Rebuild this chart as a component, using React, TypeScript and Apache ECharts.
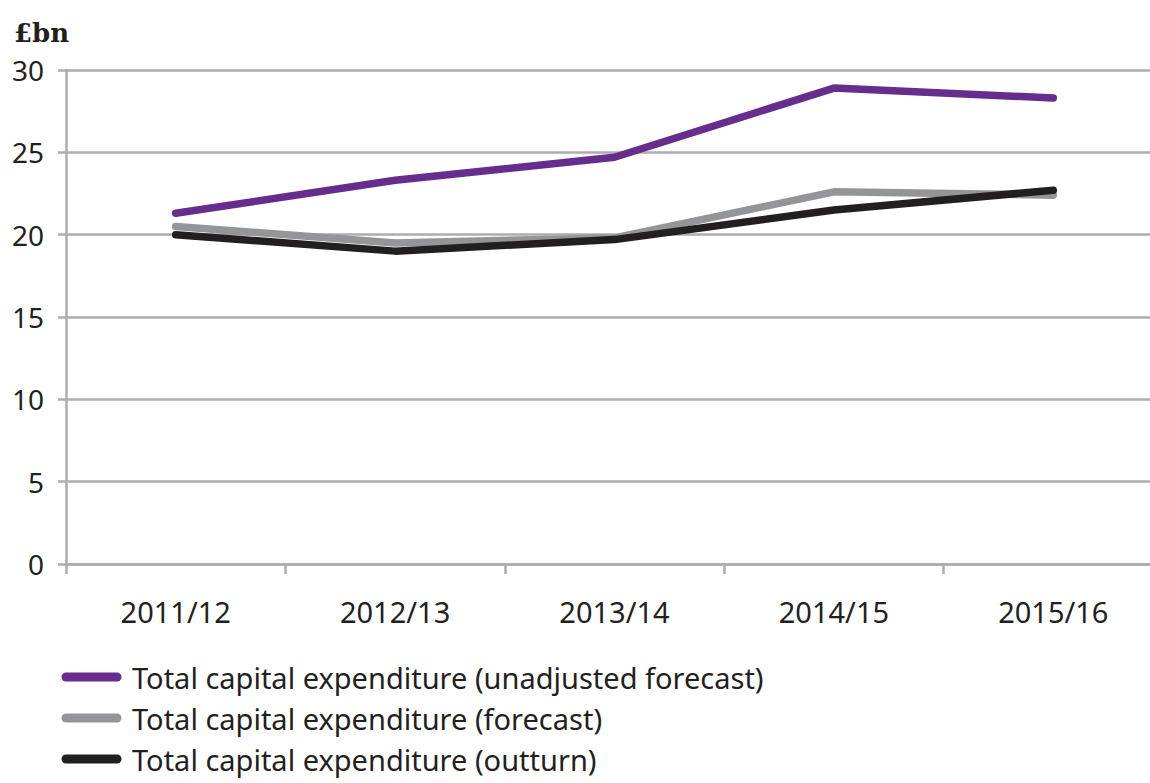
import React, { useEffect, useRef } from "react";
import * as echarts from "echarts";

const categories = ["2011/12", "2012/13", "2013/14", "2014/15", "2015/16"];
const unadjustedForecast = [21.3, 23.3, 24.7, 28.9, 28.3];
const forecast = [20.5, 19.5, 19.8, 22.6, 22.4];
const outturn = [20.0, 19.0, 19.7, 21.5, 22.7];
const yTicks = { min: 0, max: 30, interval: 5 };

const seriesNames = [
  "Total capital expenditure (unadjusted forecast)",
  "Total capital expenditure (forecast)",
  "Total capital expenditure (outturn)",
];
const colors = ["#662D8C", "#939598", "#231F20"];

const FONT = "'Noto Sans', 'Open Sans', sans-serif";

export default function App() {
  const ref = useRef<HTMLDivElement>(null);
  useEffect(() => {
    document.body.style.margin = "0";
    const chart = echarts.init(ref.current!, null, { renderer: "svg" });
    const mk = (name: string, data: number[], color: string, z: number) => ({
      name,
      type: "line",
      data,
      symbol: "none",
      z,
      lineStyle: { color, width: 7.5, cap: "round", join: "round" },
      itemStyle: { color },
    });
    const legendRows = seriesNames.map((name, i) => {
      const cy = 677 + i * 41;
      return {
        type: "group",
        children: [
          {
            type: "line",
            shape: { x1: 66, y1: cy, x2: 117, y2: cy },
            style: { stroke: colors[i], lineWidth: 9, lineCap: "round" },
          },
          {
            type: "text",
            x: 132,
            y: cy,
            style: {
              text: name,
              font: `29px ${FONT}`,
              fill: "#231F20",
              verticalAlign: "middle",
              align: "left",
            },
          },
        ],
      };
    });
    chart.setOption({
      animation: false,
      textStyle: { fontFamily: FONT },
      grid: {
        left: 66,
        top: 70,
        right: -13,
        bottom: 219,
        containLabel: false,
        outerBoundsMode: "none",
      },
      graphic: [
        {
          type: "text",
          x: 14,
          y: 20,
          style: {
            text: "£bn",
            font: "bold 26px 'DejaVu Serif', serif",
            fill: "#231F20",
          },
        },
        ...legendRows,
      ],
      xAxis: {
        type: "category",
        data: categories,
        boundaryGap: true,
        axisLine: { show: true, lineStyle: { color: "#ADADB0", width: 2.5 } },
        axisTick: { show: true, length: 10, lineStyle: { color: "#ADADB0", width: 2.5 } },
        axisLabel: { color: "#231F20", fontSize: 29, margin: 33, fontFamily: FONT },
        splitLine: { show: false },
      },
      yAxis: {
        type: "value",
        min: yTicks.min,
        max: yTicks.max,
        interval: yTicks.interval,
        axisLine: { show: true, lineStyle: { color: "#ADADB0", width: 2.5 } },
        axisTick: { show: true, length: 8, lineStyle: { color: "#ADADB0", width: 2.5 } },
        axisLabel: { color: "#231F20", fontSize: 28, margin: 22, fontFamily: FONT },
        splitLine: { show: true, lineStyle: { color: "#ADADB0", width: 2.5 } },
      },
      series: [
        mk(seriesNames[0], unadjustedForecast, colors[0], 3),
        mk(seriesNames[1], forecast, colors[1], 2),
        mk(seriesNames[2], outturn, colors[2], 4),
      ],
    });
    return () => chart.dispose();
  }, []);
  return (
    <div
      ref={ref}
      style={{ position: "absolute", left: 0, top: 0, width: 1150, height: 783, background: "#fff" }}
    />
  );
}
